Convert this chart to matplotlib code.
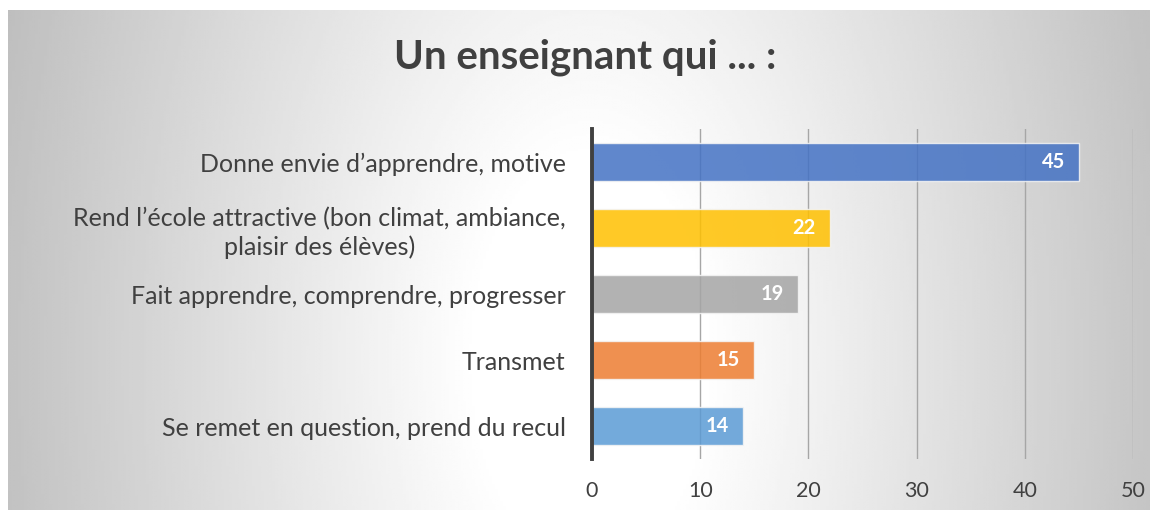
import numpy as np
import matplotlib.pyplot as plt

plt.rcParams['font.family'] = ['Lato', 'DejaVu Sans']

categories = ["Donne envie d\u2019apprendre, motive",
              "Rend l\u2019\u00e9cole attractive (bon climat, ambiance,\nplaisir des \u00e9l\u00e8ves)",
              "Fait apprendre, comprendre, progresser",
              "Transmet",
              "Se remet en question, prend du recul"]
values = [45, 22, 19, 15, 14]
colours = ['#4472C4', '#FFC000', '#A5A5A5', '#ED7D31', '#5B9BD5']
xticks = [0, 10, 20, 30, 40, 50]
txt = '#404040'

fig = plt.figure(figsize=(11.55, 5.17), dpi=100)
fig.patch.set_facecolor('white')

# radial gradient panel behind the chart
bg = fig.add_axes([8/1155, 7/517, 1142/1155, 500/517], zorder=0)
gx, gy = np.meshgrid(np.linspace(0, 1, 400), np.linspace(0, 1, 200))
r = np.sqrt(((gx - 0.51) / 0.5) ** 2 + ((gy - 0.3) / 2.0) ** 2)
shade = 1 - 0.23 * np.clip(r - 0.2, 0, None) / 0.8
shade = np.clip(shade, 0.74, 1)
bg.imshow(shade, cmap='gray', vmin=0, vmax=1, extent=[0, 1, 0, 1],
          origin='lower', aspect='auto', interpolation='bilinear')
bg.set_axis_off()

ax = fig.add_axes([592/1155, 1 - 459/517, 541/1155, 330/517], zorder=1)
ax.patch.set_alpha(0)
y = np.arange(len(categories))
bars = ax.barh(y, values, height=0.59, color=colours, alpha=0.85,
               edgecolor='#f4f4f4', linewidth=1, zorder=3)
ax.set_ylim(len(categories) - 0.5, -0.5)
ax.set_xlim(0, 50)
ax.set_xticks(xticks)
ax.set_yticks(y)
ax.set_yticklabels(categories, fontsize=18, color=txt, ha='right',
                   multialignment='center', linespacing=1.3)
ax.tick_params(axis='y', length=0, pad=19)
ax.tick_params(axis='x', length=0, pad=16, labelsize=15.5, labelcolor=txt)
for s in ['top', 'right', 'bottom']:
    ax.spines[s].set_visible(False)
ax.spines['left'].set_color('#404040')
ax.spines['left'].set_linewidth(2.8)
ax.spines['left'].set_zorder(4)
ax.grid(axis='x', color='#a6a6a6', linewidth=1, zorder=1)
ax.set_axisbelow(True)

for b, v in zip(bars, values):
    ax.text(v - 1.3, b.get_y() + b.get_height() / 2, str(v), ha='right', va='center',
            color='white', fontsize=14.5, fontweight='bold', zorder=5)

fig.text(0.507, 1 - 57/517, "Un enseignant qui ... :", ha='center', va='center',
         fontsize=29, fontweight='bold', color=txt)

fig.savefig('out.png', dpi=100)
